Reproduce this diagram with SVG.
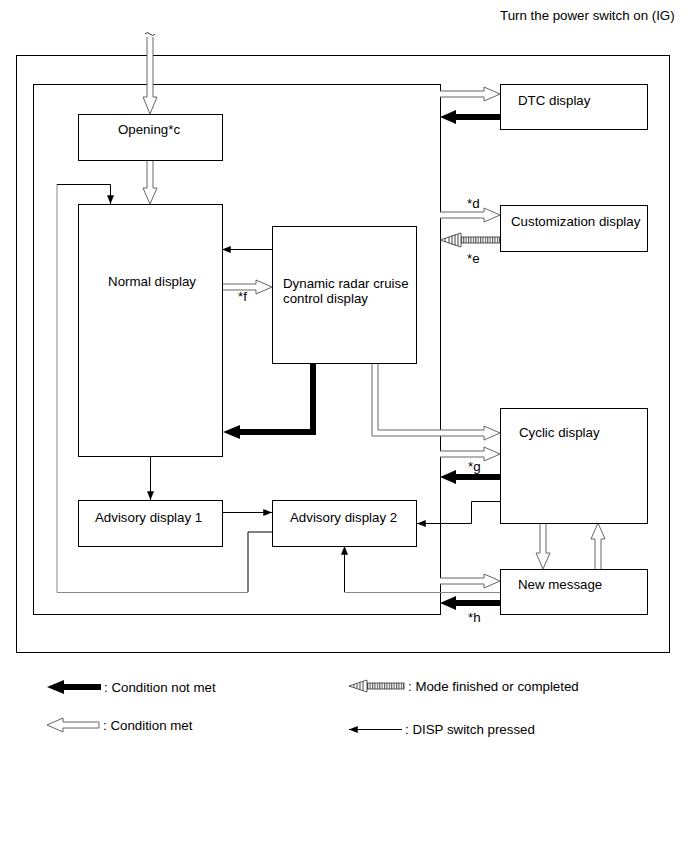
<svg xmlns="http://www.w3.org/2000/svg" width="691" height="855" viewBox="0 0 691 855">
<defs>
<style>
text{font-family:"Liberation Sans",Arial,sans-serif;font-size:13.3px;fill:#000}
.frame{fill:none;stroke:#000;stroke-width:1}
.box{fill:#fff;stroke:#000;stroke-width:1}
.hollow{fill:#fff;stroke:#666;stroke-width:1}
.thick{fill:#000;stroke:none}
.thin{fill:none;stroke:#000;stroke-width:1}
.grayline{fill:none;stroke:#888;stroke-width:1}
</style>
<marker id="ah" viewBox="0 0 10 8" refX="10" refY="4" markerWidth="9" markerHeight="7" markerUnits="userSpaceOnUse" orient="auto">
<path d="M0,0 L10,4 L0,8 Z" fill="#000"/>
</marker>
<pattern id="hatch" width="2.4" height="10" patternUnits="userSpaceOnUse">
<rect width="2.4" height="10" fill="#fff"/>
<line x1="0.6" y1="0" x2="0.6" y2="10" stroke="#333" stroke-width="0.9"/>
</pattern>
</defs>
<rect width="691" height="855" fill="#fff"/>
<text x="500" y="20">Turn the power switch on (IG)</text>
<rect class="frame" x="16.5" y="55.5" width="653" height="597"/>
<rect class="frame" x="33.5" y="84.5" width="407" height="530"/>

<g id="connectors">
<path d="M145,34 q2,-3 5,0 q3,3 5,0" fill="none" stroke="#000" stroke-width="0.8"/>
<path class="hollow" d="M147,37 L147,97 L143,97 L150,114 L157,97 L153,97 L153,37"/>
<path class="hollow" d="M147,160 L147,188 L143,188 L150,204 L157,188 L153,188 L153,160"/>
<path class="thin" d="M272,532 L248,532 L248,592"/>
<path class="grayline" d="M248,592.5 L57,592.5 L57,184"/>
<path class="thin" d="M57,184.5 L110.5,184.5 L110.5,204" marker-end="url(#ah)"/>
<path class="thin" d="M150.5,456 L150.5,500" marker-end="url(#ah)"/>
<path class="thin" d="M222,512.5 L272,512.5" marker-end="url(#ah)"/>
<path class="thin" d="M272,249.5 L222,249.5" marker-end="url(#ah)"/>
<path class="hollow" d="M222,284 L256,284 L256,280 L272,287 L256,294 L256,290 L222,290"/>
<text x="238" y="301">*f</text>
<path d="M313,363 L313,432 L238,432" fill="none" stroke="#000" stroke-width="6"/>
<path class="thick" d="M223,432 L240,425 L240,439 Z"/>
<path class="hollow" d="M440,91 L484,91 L484,87 L500,94 L484,101 L484,97 L440,97"/>
<path class="thick" d="M500,114 L456,114 L456,110 L440,117 L456,124 L456,120 L500,120 Z"/>
<path class="hollow" d="M440,212 L484,212 L484,208 L500,215 L484,222 L484,218 L440,218"/>
<text x="467" y="208">*d</text>
<rect x="461" y="237" width="39" height="6" fill="url(#hatch)" stroke="#333" stroke-width="0.8"/>
<path d="M440,240 L461,233 L461,247 Z" fill="#fff" stroke="#333" stroke-width="0.8"/>
<path d="M445,238 L445,242 M449,237 L449,243 M452,235.5 L452,244.5 M455,234.5 L455,245.5 M458,234 L458,246" stroke="#333" stroke-width="0.9"/>
<text x="467" y="263">*e</text>
<path class="hollow" d="M372,363 L372,436 L484,436 L484,440 L500,433 L484,426 L484,430 L378,430 L378,363"/>
<path class="hollow" d="M440,451 L484,451 L484,447 L500,454 L484,461 L484,457 L440,457"/>
<text x="468" y="471">*g</text>
<path class="thick" d="M500,474 L456,474 L456,470 L440,477 L456,484 L456,480 L500,480 Z"/>
<path class="thin" d="M500,501.5 L471.5,501.5 L471.5,523.5 L417,523.5" marker-end="url(#ah)"/>
<path class="hollow" d="M540,523 L540,553 L536,553 L543,569 L550,553 L546,553 L546,523"/>
<path class="hollow" d="M595,569 L595,539 L591,539 L598,523 L605,539 L601,539 L601,569"/>
<path class="hollow" d="M440,578 L484,578 L484,574 L500,581 L484,588 L484,584 L440,584"/>
<path class="grayline" d="M500,592.5 L344.5,592.5"/>
<path class="thin" d="M344.5,592 L344.5,546" marker-end="url(#ah)"/>
<path class="thick" d="M500,600 L456,600 L456,596 L440,603 L456,610 L456,606 L500,606 Z"/>
<text x="468" y="622">*h</text>
</g>

<g id="opening"><rect class="box" x="78.5" y="114.5" width="144" height="46"/><text x="149" y="134" text-anchor="middle">Opening*c</text></g>
<g id="normal"><rect class="box" x="78.5" y="204.5" width="144" height="252"/><text x="152" y="286" text-anchor="middle">Normal display</text></g>
<g id="drcc"><rect class="box" x="272.5" y="226.5" width="144" height="137"/><text x="283" y="288">Dynamic radar cruise</text><text x="283" y="303">control display</text></g>
<g id="adv1"><rect class="box" x="78.5" y="500.5" width="144" height="46"/><text x="95" y="522">Advisory display 1</text></g>
<g id="adv2"><rect class="box" x="272.5" y="500.5" width="144" height="46"/><text x="290" y="522">Advisory display 2</text></g>
<g id="dtc"><rect class="box" x="500.5" y="84.5" width="147" height="45"/><text x="518" y="105">DTC display</text></g>
<g id="custom"><rect class="box" x="500.5" y="205.5" width="147" height="46"/><text x="511" y="226">Customization display</text></g>
<g id="cyclic"><rect class="box" x="500.5" y="408.5" width="147" height="115"/><text x="519" y="437">Cyclic display</text></g>
<g id="newmsg"><rect class="box" x="500.5" y="569.5" width="147" height="45"/><text x="518" y="589">New message</text></g>

<g id="legend">
<path class="thick" d="M101,684 L64,684 L64,680 L47,687 L64,694 L64,690 L101,690 Z"/>
<text x="104" y="692">: Condition not met</text>
<path class="hollow" d="M47,725 L63,718 L63,722 L99,722 L99,728 L63,728 L63,732 Z"/>
<text x="103" y="730">: Condition met</text>
<rect x="367" y="683" width="37" height="6" fill="url(#hatch)" stroke="#333" stroke-width="0.8"/>
<path d="M349,686 L367,680 L367,692 Z" fill="#fff" stroke="#333" stroke-width="0.8"/>
<path d="M354,684.5 L354,687.5 M357,683.5 L357,688.5 M360,682.5 L360,689.5 M363,681.5 L363,690.5" stroke="#333" stroke-width="0.9"/>
<text x="408" y="691">: Mode finished or completed</text>
<path class="thin" d="M402,729.5 L349,729.5" marker-end="url(#ah)"/>
<text x="405" y="734">: DISP switch pressed</text>
</g>
</svg>
